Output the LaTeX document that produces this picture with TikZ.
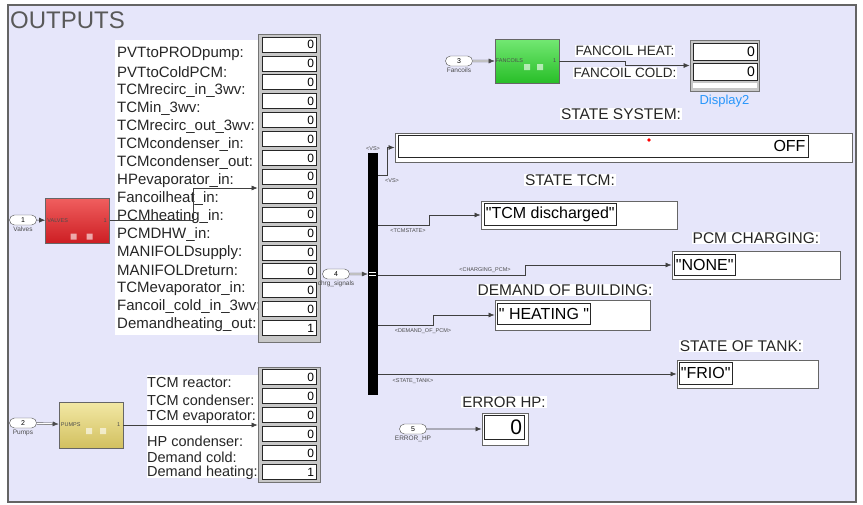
\documentclass[tikz,border=0pt]{standalone}
\usepackage{fontspec}
\setmainfont{Liberation Sans}[Ligatures=TeXOff]
\usetikzlibrary{arrows.meta,positioning,shapes.misc}

\definecolor{panel}{RGB}{230,230,250}
\definecolor{framegray}{RGB}{100,100,100}
\definecolor{dispblue}{RGB}{40,150,250}
\definecolor{valvetop}{RGB}{240,95,95}
\definecolor{valvebot}{RGB}{205,30,35}
\definecolor{pumptop}{RGB}{242,232,165}
\definecolor{pumpbot}{RGB}{210,192,95}
\definecolor{fantop}{RGB}{115,232,115}
\definecolor{fanbot}{RGB}{40,190,40}

\tikzset{
  sig/.style={-{Latex[length=6pt,width=5pt]}, line width=0.6pt, draw=black!75},
  busline/.style={double=white, double distance=1.2pt, line width=0.5pt, draw=black!70, -{Latex[length=6pt,width=5pt]}},
  hlabel/.style={fill=white, inner sep=1pt, text=black!85, font=\fontsize{15.5}{16}\selectfont},
  rowlabel/.style={anchor=west, inner sep=0pt, text=black!85, font=\fontsize{15}{15}\selectfont},
  cell/.style={draw=black!85, fill=white, line width=0.7pt, minimum width=54pt, minimum height=15pt,
    text width=50pt, align=right, inner sep=2pt, font=\fontsize{12}{12}\selectfont},
  colframe/.style={draw=black!55, fill=black!22, line width=0.8pt, inner sep=0pt},
  outerbox/.style={draw=black!60, fill=white, line width=1pt, inner sep=0pt},
  innerbox/.style={draw=black!85, fill=white, line width=0.8pt, inner sep=1.5pt, font=\fontsize{16}{16}\selectfont},
  inport/.style={draw=black!70, fill=white, rounded rectangle, minimum width=27pt, minimum height=10pt,
    inner sep=0pt, font=\fontsize{7}{7}\selectfont},
  portname/.style={inner sep=0pt, text=black!70, font=\fontsize{6.5}{7}\selectfont},
  sigtag/.style={inner sep=0pt, text=black!70, font=\fontsize{5.5}{6}\selectfont},
  subsys/.style={draw=black!60, line width=0.6pt, minimum width=64pt, minimum height=45pt, inner sep=0pt},
  iconmark/.style={fill=white, opacity=0.6},
}

\begin{document}
\begin{tikzpicture}[x=1pt, y=-1pt]
\useasboundingbox (0,0) rectangle (863,504);
\draw[fill=panel, draw=framegray, line width=1.2pt] (8,5) rectangle (856,502);
\node[anchor=base west, inner sep=0pt, text=black!65, font=\fontsize{24}{24}\selectfont] (title) at (10,28) {OUTPUTS};

% valves
\fill[white] (115,40) rectangle (258,335);
\foreach \name [count=\i] in {PVTtoPRODpump:, PVTtoColdPCM:, TCMrecirc\_in\_3wv:, TCMin\_3wv:,
    TCMrecirc\_out\_3wv:, TCMcondenser\_in:, TCMcondenser\_out:, HPevaporator\_in:, Fancoilheat\_in:,
    PCMheating\_in:, PCMDHW\_in:, MANIFOLDsupply:, MANIFOLDreturn:, TCMevaporator\_in:,
    Fancoil\_cold\_in\_3wv:, Demandheating\_out:}
  \node[rowlabel] (vl\i) at (117,{54+18.05*(\i-1)}) {\name};
\node[colframe, minimum width=62pt, minimum height=308pt] (vdisp) at (289,188) {};
\foreach \v [count=\i] in {0,0,0,0,0,0,0,0,0,0,0,0,0,0,0,1}
  \node[cell] (vc\i) at (289,{44.5+18.9*(\i-1)}) {\v};

\node[subsys, top color=valvetop, bottom color=valvebot] (valves) at (77.5,220.5) {};
\node[sigtag, anchor=west] (vtxt) at ([xshift=2pt]valves.west) {VALVES};
\node[sigtag, anchor=east] (vout) at ([xshift=-3pt]valves.east) {1};
\fill[iconmark] ([shift={(-7,13)}]valves.center) rectangle ++(6,6) ([shift={(9,13)}]valves.center) rectangle ++(6,6);
\node[inport] (vin) at (23,220) {1};
\node[portname, below=1.5pt of vin] (vinname) {Valves};

% pumps
\fill[white] (147,375) rectangle (258,478);
\foreach \name/\yy [count=\i] in {TCM reactor:/383, TCM condenser:/400, TCM evaporator:/417,
    HP condenser:/441, Demand cold:/457, Demand heating:/473}
  \node[rowlabel, font=\fontsize{14.5}{15}\selectfont] (pl\i) at (147,\yy) {\name};
\node[colframe, minimum width=62pt, minimum height=115pt] (pdisp) at (289,424.5) {};
\foreach \v [count=\i] in {0,0,0,0,0,1}
  \node[cell] (pc\i) at (289,{377+19*(\i-1)}) {\v};

\node[subsys, top color=pumptop, bottom color=pumpbot, minimum height=46pt] (pumps) at (91,425) {};
\node[sigtag, anchor=west] (ptxt) at ([xshift=2pt]pumps.west) {PUMPS};
\node[sigtag, anchor=east] (pout) at ([xshift=-3pt]pumps.east) {1};
\fill[iconmark] ([shift={(-5,3)}]pumps.center) rectangle ++(6,6) ([shift={(9,3)}]pumps.center) rectangle ++(6,6);
\node[inport] (pin) at (23,423) {2};
\node[portname, below=1.5pt of pin] (pinname) {Pumps};

% fancoils
\node[subsys, top color=fantop, bottom color=fanbot, minimum height=44pt] (fanc) at (527,61) {};
\node[sigtag, anchor=west] (ftxt) at ([xshift=1pt]fanc.west) {FANCOILS};
\node[sigtag, anchor=east] (fout) at ([xshift=-3pt]fanc.east) {1};
\fill[iconmark] ([shift={(-3,3)}]fanc.center) rectangle ++(6,6) ([shift={(10,3)}]fanc.center) rectangle ++(6,6);
\node[inport] (fin) at (459,61) {3};
\node[portname, below=1.5pt of fin] (finname) {Fancoils};

\node[hlabel, font=\fontsize{13.5}{14}\selectfont] (fheat) at (625,51) {FANCOIL HEAT:};
\node[hlabel, font=\fontsize{13.5}{14}\selectfont] (fcold) at (625,73) {FANCOIL COLD:};
\node[colframe, minimum width=69pt, minimum height=51pt] (d2) at (724.5,65.5) {};
\node[cell, minimum width=64pt, minimum height=17pt, text width=60pt, font=\fontsize{14}{14}\selectfont] (d2a) at (725,51.5) {0};
\node[cell, minimum width=64pt, minimum height=17pt, text width=60pt, font=\fontsize{14}{14}\selectfont] (d2b) at (725,72) {0};
\fill[white] (693,83) rectangle (757,88);
\node[below=3pt of d2, inner sep=0pt, text=dispblue, font=\fontsize{13}{13}\selectfont] (d2name) {Display2};

% bus selector
\node[fill=black, minimum width=10pt, minimum height=242pt, inner sep=0pt] (bus) at (373,274) {};
\draw[white, line width=0.5pt] (369,272.5) -- (376,272.5) (369,275.5) -- (376,275.5);
\node[sigtag] (bustag) at (373,149) {<VS>};
\node[inport] (cin) at (336,274) {4};
\node[portname, below=1.5pt of cin] (cinname) {chrg\_signals};
\coordinate (tapvs) at (378,175);
\coordinate (taptcm) at (378,225);
\coordinate (tapchg) at (378,275);
\coordinate (tapdem) at (378,325);
\coordinate (taptank) at (378,374);

% string displays
\node[hlabel] (ssyslbl) at (621,114) {STATE SYSTEM:};
\node[outerbox, minimum width=457pt, minimum height=29pt] (ssys) at (623.5,147.5) {};
\node[innerbox, minimum width=410pt, minimum height=22pt, text width=405pt, align=right] (ssysv) at (603,146) {OFF};
\node[circle, fill=red, inner sep=0pt, minimum size=3.6pt] (ssysdot) at (649,140) {};

\node[hlabel] (tcmlbl) at (570,180) {STATE TCM:};
\node[outerbox, minimum width=196pt, minimum height=28pt] (tcm) at (579,215) {};
\node[innerbox, anchor=west, minimum height=22pt] (tcmv) at (484,214) {"TCM discharged"};

\node[hlabel] (pcmlbl) at (756,238) {PCM CHARGING:};
\node[outerbox, minimum width=168pt, minimum height=28pt] (pcm) at (756,265) {};
\node[innerbox, anchor=west, minimum height=21pt] (pcmv) at (674,264.5) {"NONE"};

\node[hlabel] (demlbl) at (565,290) {DEMAND OF BUILDING:};
\node[outerbox, minimum width=155pt, minimum height=30pt] (dem) at (572.5,315) {};
\node[innerbox, anchor=west, minimum height=21pt] (demv) at (497,313.5) {" HEATING "};

\node[hlabel] (tanklbl) at (741,346) {STATE OF TANK:};
\node[outerbox, minimum width=141pt, minimum height=28pt] (tank) at (747.5,374) {};
\node[innerbox, anchor=west, minimum height=22pt] (tankv) at (679,373) {"FRIO"};

\node[hlabel, font=\fontsize{15}{15}\selectfont] (errlbl) at (504,402) {ERROR HP:};
\node[outerbox, minimum width=46pt, minimum height=32pt] (errd) at (505,429) {};
\node[innerbox, minimum width=40pt, minimum height=24pt, text width=36pt, align=right, font=\fontsize{21}{21}\selectfont] (errv) at (504,427) {0};
\node[inport] (ein) at (413,429) {5};
\node[portname, below=1.5pt of ein] (einname) {ERROR\_HP};

% signals
\draw[sig] (vin) -- (valves);
\draw[busline] (pin) -- (pumps);
\draw[busline] (fin) -- (fanc);
\draw[busline] (cin) -- (bus);
\draw[sig] (ein) -- (errd);
\draw[sig] (valves.east) -- ++(83,0) |- (vdisp.west);
\draw[sig] (pumps.east) -- (pumps.east -| pdisp.west);
\draw[sig] (fanc.east) -- ++(66,0) |- (d2.west);
\draw[sig] (tapvs) -- ++(9,0) |- (ssys.west);
\draw[sig] (taptcm) -- ++(51,0) |- (tcm.west);
\draw[sig] (tapchg) -- ++(147,0) |- (pcm.west);
\draw[sig] (tapdem) -- ++(55,0) |- (dem.west);
\draw[sig] (taptank) -- (taptank -| tank.west);
\node[sigtag] (tagvs) at (392,181) {<VS>};
\node[sigtag] (tagtcm) at (408,231) {<TCMSTATE>};
\node[sigtag] (tagchg) at (485,270) {<CHARGING\_PCM>};
\node[sigtag] (tagdem) at (423,331) {<DEMAND\_OF\_PCM>};
\node[sigtag] (tagtank) at (413,381) {<STATE\_TANK>};
\end{tikzpicture}
\end{document}
